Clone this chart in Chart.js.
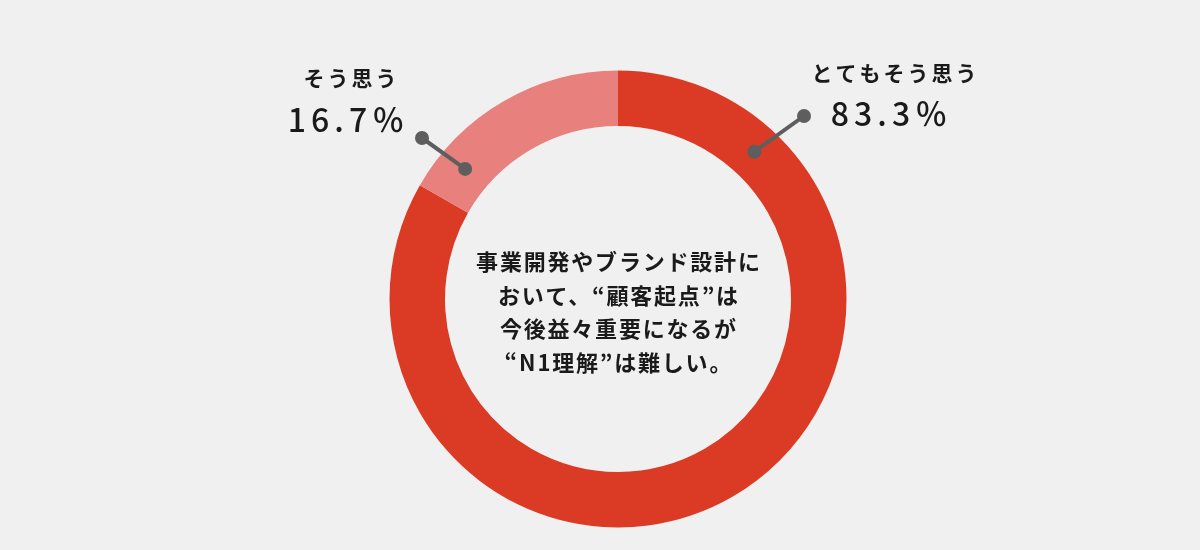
<!DOCTYPE html>
<html lang="ja">
<head>
<meta charset="utf-8">
<script src="https://cdn.jsdelivr.net/npm/chart.js@4.4.1/dist/chart.umd.min.js"></script>
<style>
  html, body { margin: 0; padding: 0; background: #f0f0f0; }
  #wrap { width: 1200px; height: 550px; }
</style>
</head>
<body>
<div id="wrap"><canvas id="donut" width="1200" height="550"></canvas></div>
<script>
// データ
const categories = ["とてもそう思う", "そう思う"];
const shares = [83.3, 16.7];
const shareLabels = ["83.3%", "16.7%"];
const centerLines = [
  "事業開発やブランド設計に",
  "おいて、“顧客起点”は",
  "今後益々重要になるが",
  "“N1理解”は難しい。",
];

// 見た目
const COLORS = ["#db3b25", "#e8807d"];
const FONT = '"Noto Sans CJK JP", "Noto Sans", sans-serif';
// 引き出し線: リング上の角度(上から時計回り, 度) と ラベル位置
const callouts = [
  { angle: 42.8, dot: [804, 116], label: [894, 73], value: [889, 114] },
  { angle: -49.6, dot: [422, 138], label: [350, 78], value: [346, 120] },
];

function spacedText(ctx, txt, cx, cy, spacing) {
  ctx.letterSpacing = spacing + "px";
  const w = ctx.measureText(txt).width - spacing;
  ctx.textAlign = "left";
  ctx.fillText(txt, cx - w / 2, cy);
}

const overlay = {
  id: "overlay",
  afterDraw(chart) {
    const ctx = chart.ctx;
    const arc = chart.getDatasetMeta(0).data[0];
    const cx = arc.x, cy = arc.y;
    const midR = (arc.innerRadius + arc.outerRadius) / 2;

    ctx.save();
    ctx.fillStyle = "#1a1a1a";
    ctx.textBaseline = "middle";

    // 中央テキスト
    ctx.font = "bold 22px " + FONT;
    const lh = 33.5;
    const y0 = cy - lh * (centerLines.length - 1) / 2 + 13;
    centerLines.forEach((ln, i) => spacedText(ctx, ln, cx, y0 + i * lh, 1.8));

    // 引き出し線とラベル
    callouts.forEach((c, i) => {
      const a = c.angle * Math.PI / 180;
      const px = cx + midR * Math.sin(a);
      const py = cy - midR * Math.cos(a);
      ctx.strokeStyle = "#5e5e5e";
      ctx.fillStyle = "#5e5e5e";
      ctx.lineWidth = 4;
      ctx.beginPath();
      ctx.moveTo(c.dot[0], c.dot[1]);
      ctx.lineTo(px, py);
      ctx.stroke();
      [[c.dot[0], c.dot[1]], [px, py]].forEach(([x, y]) => {
        ctx.beginPath();
        ctx.arc(x, y, 7, 0, Math.PI * 2);
        ctx.fill();
      });

      ctx.fillStyle = "#1a1a1a";
      ctx.font = "bold 21px " + FONT;
      spacedText(ctx, categories[i], c.label[0], c.label[1], 3);
      ctx.font = "500 32px " + FONT;
      spacedText(ctx, shareLabels[i].replace("%", "％"), c.value[0], c.value[1], 5);
    });
    ctx.restore();
  },
};

new Chart(document.getElementById("donut"), {
  type: "doughnut",
  data: {
    labels: categories,
    datasets: [{
      data: shares,
      backgroundColor: COLORS,
      borderWidth: 0,
      hoverOffset: 0,
    }],
  },
  options: {
    responsive: false,
    animation: false,
    cutout: "75.7%",
    layout: { padding: { top: 70.5, bottom: 22.5, left: 36, right: 0 } },
    plugins: { legend: { display: false }, tooltip: { enabled: false } },
  },
  plugins: [overlay],
});
</script>
</body>
</html>
